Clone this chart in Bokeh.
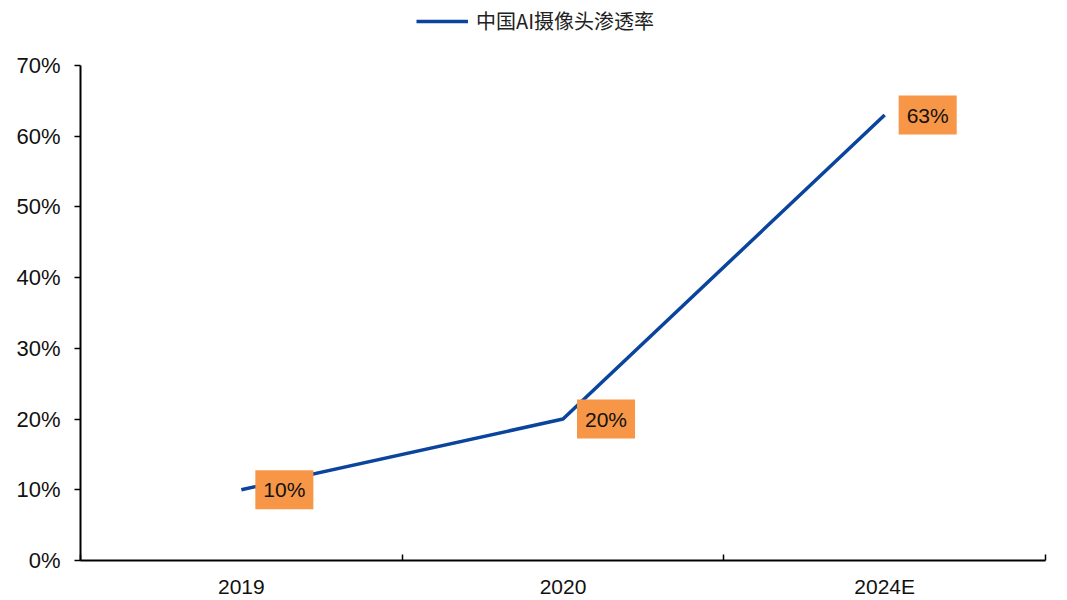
from bokeh.plotting import figure
from bokeh.layouts import column
from bokeh.models import (ColumnDataSource, Range1d, FixedTicker, NumeralTickFormatter,
                          Legend, LegendItem)
from bokeh.core.properties import value
from bokeh.embed import file_html
from bokeh.resources import INLINE

categories = ["2019", "2020", "2024E"]
penetration = [0.10, 0.20, 0.63]
series_name = "中国AI摄像头渗透率"
y_ticks = [0, 0.1, 0.2, 0.3, 0.4, 0.5, 0.6, 0.7]

LINE_COLOR = "#0A449C"

xs = [i + 0.5 for i in range(len(categories))]
src = ColumnDataSource(dict(x=xs, y=penetration,
                            lab=["{:.0%}".format(v) for v in penetration]))

# ---- legend strip ----
lf = figure(width=1067, height=45, output_backend="svg", toolbar_location=None,
            x_range=Range1d(0, 1), y_range=Range1d(0, 1),
            min_border=0, outline_line_color=None)
lf.axis.visible = False
lf.grid.visible = False
leg_line = lf.line(x=[5, 6], y=[5, 5], line_color=LINE_COLOR, line_width=3.5)
legend = Legend(items=[LegendItem(label=series_name, renderers=[leg_line])],
                orientation="horizontal", location=(336, 10),
                label_text_font="Noto Sans CJK SC", label_text_font_size="20px",
                label_text_color="#222222", glyph_width=52, label_standoff=8,
                border_line_color=None, background_fill_alpha=0, margin=0, padding=4)
lf.add_layout(legend)

# ---- main chart ----
p = figure(width=1067, height=555, output_backend="svg", toolbar_location=None,
           x_range=Range1d(0, len(categories)), y_range=Range1d(0, 0.7),
           min_border_left=80, min_border_right=22, min_border_bottom=40,
           min_border_top=20)
p.outline_line_color = None
p.xgrid.visible = False
p.ygrid.visible = False

p.line("x", "y", source=src, line_color=LINE_COLOR, line_width=3.5)

p.text(x="x", y="y", text="lab", source=src, x_offset=14,
       text_baseline="middle", text_align="left",
       text_font=value("Liberation Sans"), text_font_size="21px", text_color="#111111",
       background_fill_color="#F79646", padding=8)

# x axis
xa = p.xaxis[0]
xa.ticker = FixedTicker(ticks=xs, minor_ticks=list(range(0, len(categories) + 1)))
xa.major_label_overrides = {x: c for x, c in zip(xs, categories)}
xa.major_tick_line_color = None
xa.major_tick_out = 0
xa.major_tick_in = 0
xa.minor_tick_in = 6
xa.minor_tick_out = 0
xa.minor_tick_line_color = "black"
xa.minor_tick_line_width = 1.5
xa.axis_line_color = "black"
xa.axis_line_width = 2
xa.major_label_text_font = "Liberation Sans"
xa.major_label_text_font_size = "21px"
xa.major_label_text_color = "#111111"
xa.major_label_standoff = 14

# y axis
ya = p.yaxis[0]
ya.ticker = FixedTicker(ticks=y_ticks)
ya.formatter = NumeralTickFormatter(format="0%")
ya.minor_tick_line_color = None
ya.major_tick_in = 0
ya.major_tick_out = 6
ya.major_tick_line_width = 1.5
ya.axis_line_color = "black"
ya.axis_line_width = 2
ya.major_label_text_font = "Liberation Sans"
ya.major_label_text_font_size = "22px"
ya.major_label_text_color = "#111111"
ya.major_label_standoff = 14

layout = column(lf, p, spacing=0)
open("out.html", "w").write(file_html(layout, INLINE))
